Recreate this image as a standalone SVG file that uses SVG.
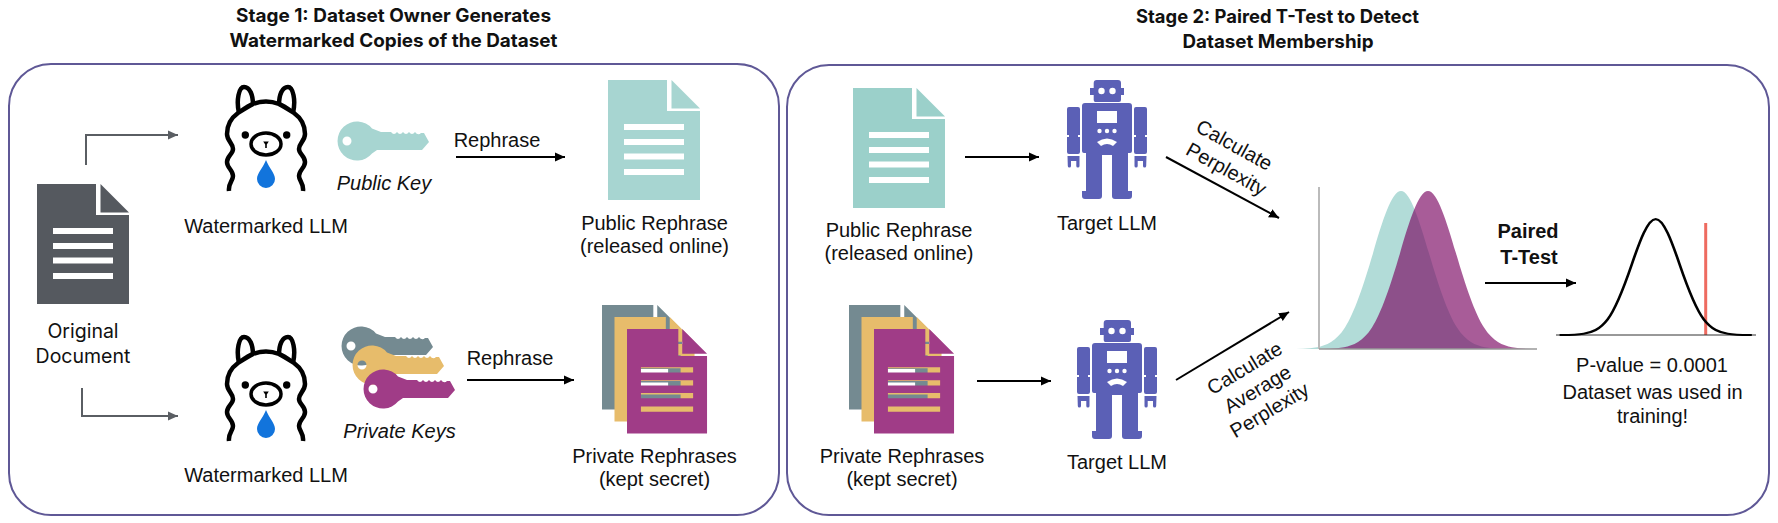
<svg xmlns="http://www.w3.org/2000/svg" width="1778" height="523" viewBox="0 0 1778 523">
<style>
text{font-family:"Liberation Sans",Arial,sans-serif;font-size:20px;fill:#111;text-anchor:middle}
.title{font-family:Inter,"Liberation Sans",sans-serif;font-weight:700;font-size:18.5px}
.orig{font-family:Inter,"Liberation Sans",sans-serif;font-size:19.5px}
.it{font-style:italic}
.b{font-weight:700}
.panel{fill:#fff;stroke:#5f5896;stroke-width:2}
.ln{fill:none;stroke:#000;stroke-width:2}
.gl{fill:none;stroke:#5a5e63;stroke-width:2}
.ll{fill:none;stroke:#000;stroke-width:4.5}
</style>
<defs>
<marker id="ah" markerUnits="userSpaceOnUse" markerWidth="11" markerHeight="10" refX="10" refY="5" orient="auto"><path d="M0,.5L10,5L0,9.5z" fill="#000"/></marker>
<marker id="ag" markerUnits="userSpaceOnUse" markerWidth="11" markerHeight="10" refX="10" refY="5" orient="auto"><path d="M0,.5L10,5L0,9.5z" fill="#5a5e63"/></marker>
<path id="doc" fill-rule="evenodd" d="M0,0H59V31H92V120H0ZM63.5,0L92,28.5H63.5ZM16,44H76V50H16ZM16,59H76V65H16ZM16,73.5H76V79.5H16ZM16,89H76V95H16Z"/>
<path id="key" fill-rule="evenodd" d="M15,-12.5A19.5,19.5 0 1 0 15,12.5L20,9H65L72,1L67,-8H64Q61,-5 58,-9Q55,-5 52,-9Q49,-5 46,-9Q43,-5 40,-9Q37,-5 34,-9H24ZM-14.5,0a4.5,4.5 0 1 0 9,0a4.5,4.5 0 1 0 -9,0Z"/>
<g id="llama">
<path class="ll" d="M-37,106C-38,98 -33,96 -33,91C-33,85 -39,83 -39,77C-39,71 -33,69 -33,64C-33,58 -39,56 -39,49C-39,41 -35,33 -28,28C-22,24 -16,20 -13,19Q0,14 13,19C16,20 22,24 28,28C35,33 39,41 39,49C39,56 33,58 33,64C33,69 39,71 39,77C39,83 33,85 33,91C33,96 38,98 37,106"/>
<path class="ll" d="M-27,28C-30,15 -27,2 -22,2C-16,2 -13,10 -13,20M27,28C30,15 27,2 22,2C16,2 13,10 13,20"/>
<ellipse cx="0" cy="59" rx="15" ry="11" fill="none" stroke="#000" stroke-width="3.5"/>
<circle cx="-20.7" cy="50" r="3.7"/><circle cx="20.7" cy="50" r="3.7"/>
<path d="M-2.8,56.5H2.8L.8,59.5V63H-.8V59.5Z"/>
<path d="M0,75C3,83 9,88 9,94A9,9 0 0 1 -9,94C-9,88 -3,83 0,75Z" fill="#1274dc"/>
</g>
<g id="robot" fill="#5b60b6">
<path d="M-13.3,3a3,3 0 0 1 3,-3H11a3,3 0 0 1 3,3V8H17V15H14V20a2,2 0 0 1 -2,2H-11a2,2 0 0 1 -2.3,-2V15H-17V8H-13.3Z"/>
<path d="M-22,23H22a3,3 0 0 1 3,3V71a2,2 0 0 1 -2,2H21V111H25V116a3,3 0 0 1 -3,3H8a3,3 0 0 1 -3,-3V75H-5V116a3,3 0 0 1 -3,3H-22a3,3 0 0 1 -3,-3V111H-21V73H-23a2,2 0 0 1 -2,-2V26a3,3 0 0 1 3,-3Z"/>
<path d="M-40,29a2,2 0 0 1 2,-2H-29a2,2 0 0 1 2,2V55H-29V57H-27V72a2,2 0 0 1 -2,2H-38a2,2 0 0 1 -2,-2V57H-38V55H-40ZM-39.5,76H-27.5V86a1.6,1.6 0 0 1 -3.2,0V81H-36V86a1.6,1.6 0 0 1 -3.2,0Z"/>
<path d="M40,29a2,2 0 0 0 -2,-2H29a2,2 0 0 0 -2,2V55H29V57H27V72a2,2 0 0 0 2,2H38a2,2 0 0 0 2,-2V57H38V55H40ZM39.5,76H27.5V86a1.6,1.6 0 0 0 3.2,0V81H36V86a1.6,1.6 0 0 0 3.2,0Z"/>
<circle cx="-5.5" cy="11" r="3.2" fill="#fff"/><circle cx="5.5" cy="11" r="3.2" fill="#fff"/>
<rect x="-10" y="31" width="20" height="12" fill="#fff"/>
<circle cx="-7.5" cy="51" r="2.2" fill="#fff"/><circle cx="0" cy="51" r="2.2" fill="#fff"/><circle cx="7.5" cy="51" r="2.2" fill="#fff"/>
<path d="M-10,62Q0,55 10,62L6,66Q0,62 -6,66Z" fill="#fff"/>
</g>
<path id="gauss" d="M-108,0C-99,-.1 -90,0 -81,-1.75C-72,-3.5 -63,-7.1 -54,-21.4C-45,-35.7 -36,-63.9 -27,-95.8C-18,-127.7 -9,-158 0,-158C9,-158 18,-127.7 27,-95.8C36,-63.9 45,-35.7 54,-21.4C63,-7.1 72,-3.5 81,-1.75C90,0 99,-.1 108,0"/>
</defs>

<g id="panel-1"><rect class="panel" x="9" y="64" width="770" height="451" rx="42" ry="42"/></g>
<g id="panel-2"><rect class="panel" x="787" y="65" width="982" height="450" rx="42" ry="42"/></g>

<g id="title-1"><text class="title" x="393.500" y="22" textLength="315" lengthAdjust="spacingAndGlyphs">Stage 1: Dataset Owner Generates</text><text class="title" x="393.500" y="47" textLength="328" lengthAdjust="spacingAndGlyphs">Watermarked Copies of the Dataset</text></g>
<g id="title-2"><text class="title" x="1277.500" y="23" textLength="283" lengthAdjust="spacingAndGlyphs">Stage 2: Paired T-Test to Detect</text><text class="title" x="1278" y="48" textLength="191" lengthAdjust="spacingAndGlyphs">Dataset Membership</text></g>

<g id="connectors">
<path class="gl" marker-end="url(#ag)" d="M86,165V135H178"/>
<path class="gl" marker-end="url(#ag)" d="M82,388V416H178"/>
<path class="ln" marker-end="url(#ah)" d="M456,157H565"/>
<path class="ln" marker-end="url(#ah)" d="M467,380H574"/>
<path class="ln" marker-end="url(#ah)" d="M965,157H1039"/>
<path class="ln" marker-end="url(#ah)" d="M977,381H1051"/>
<path class="ln" marker-end="url(#ah)" d="M1166,157L1279,218"/>
<path class="ln" marker-end="url(#ah)" d="M1176,380L1289,312"/>
<path class="ln" marker-end="url(#ah)" d="M1485,283H1576"/>
</g>

<g id="original-document"><use href="#doc" fill="#55595f" transform="translate(37,184)"/><text class="orig" x="83" y="338">Original</text><text class="orig" x="83" y="363">Document</text></g>
<g id="watermarked-llm-1"><use href="#llama" transform="translate(266,85)"/><text x="266" y="233">Watermarked LLM</text></g>
<g id="public-key"><use href="#key" fill="#a7d5d1" transform="translate(357,141)"/><text class="it" x="384" y="190">Public Key</text></g>
<text x="497" y="147">Rephrase</text>
<g id="public-rephrase-1"><use href="#doc" fill="#a7d5d1" transform="translate(608,80)"/><text x="654.500" y="230">Public Rephrase</text><text x="654.500" y="253">(released online)</text></g>

<g id="watermarked-llm-2"><use href="#llama" transform="translate(266,335)"/><text x="266" y="482">Watermarked LLM</text></g>
<g id="private-keys"><use href="#key" fill="#748a91" transform="translate(361,346)"/><use href="#key" fill="#e7bc6b" transform="translate(372,365)"/><use href="#key" fill="#a03c87" transform="translate(383,389)"/><text class="it" x="399.500" y="438">Private Keys</text></g>
<text x="510" y="365">Rephrase</text>
<g id="private-rephrases-1"><use href="#doc" fill="#748a91" transform="translate(602,305) scale(.87)"/><use href="#doc" fill="#e7bc6b" transform="translate(614.500,317) scale(.87)"/><use href="#doc" fill="#a03c87" transform="translate(627,329) scale(.87)"/><text x="654.500" y="463">Private Rephrases</text><text x="654.500" y="486">(kept secret)</text></g>

<g id="public-rephrase-2"><use href="#doc" fill="#9bd0ca" transform="translate(853,88)"/><text x="899" y="237">Public Rephrase</text><text x="899" y="260">(released online)</text></g>
<g id="target-llm-1"><use href="#robot" transform="translate(1107,80)"/><text x="1107" y="230">Target LLM</text></g>
<g id="private-rephrases-2"><use href="#doc" fill="#748a91" transform="translate(849,305) scale(.87)"/><use href="#doc" fill="#e7bc6b" transform="translate(861.500,317) scale(.87)"/><use href="#doc" fill="#a03c87" transform="translate(874,329) scale(.87)"/><text x="902" y="463">Private Rephrases</text><text x="902" y="486">(kept secret)</text></g>
<g id="target-llm-2"><use href="#robot" transform="translate(1117,320)"/><text x="1117" y="469">Target LLM</text></g>

<g id="label-perplexity"><text transform="translate(1231,151) rotate(29)">Calculate</text><text transform="translate(1223,175) rotate(29)">Perplexity</text></g>
<g id="label-average"><text transform="translate(1248,374) rotate(-31)">Calculate</text><text transform="translate(1261,395) rotate(-31)">Average</text><text transform="translate(1273,416) rotate(-31)">Perplexity</text></g>

<g id="distributions">
<use href="#gauss" fill="#b2dcd8" transform="translate(1401,349) scale(1.037,1)"/>
<use href="#gauss" fill="#790561" fill-opacity=".65" transform="translate(1428,349) scale(1.037,1)"/>
<path d="M1319,187V349" fill="none" stroke="#bbb" stroke-width="2"/>
<path d="M1319,349H1537" fill="none" stroke="#999" stroke-width="1.500"/>
</g>
<g id="paired-t-test"><text class="b" x="1528" y="238">Paired</text><text class="b" x="1529" y="264">T-Test</text></g>
<g id="t-distribution">
<path d="M1705.700,223V335" fill="none" stroke="#ee6b60" stroke-width="3"/>
<path d="M1556,335H1756" fill="none" stroke="#333" stroke-width="1"/>
<g transform="translate(1655.700,335) scale(.89,.734)"><use href="#gauss" fill="none" stroke="#000" stroke-width="3"/></g>
<text x="1652" y="372">P-value = 0.0001</text><text x="1652.500" y="399">Dataset was used in</text><text x="1652.500" y="423">training!</text>
</g>
</svg>
